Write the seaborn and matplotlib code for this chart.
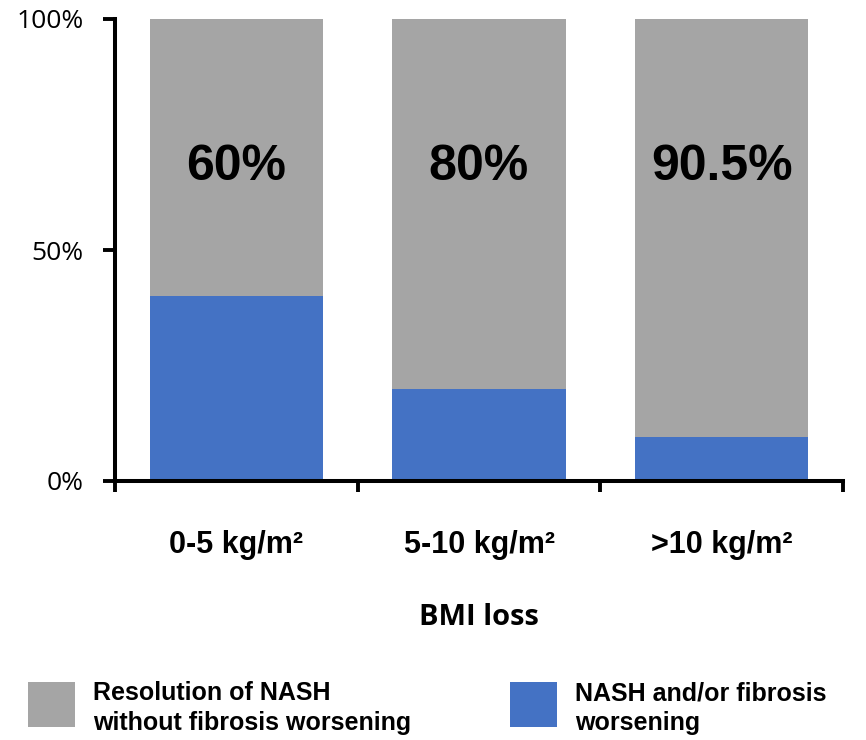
import matplotlib
matplotlib.use("Agg")
import matplotlib.pyplot as plt
import seaborn as sns
import pandas as pd
from matplotlib.patches import Patch
from matplotlib import font_manager as fm

categories = ["0-5 kg/m²", "5-10 kg/m²", ">10 kg/m²"]
worsening = [40, 20, 9.5]
resolution = [60, 80, 90.5]
resolution_labels = ["60%", "80%", "90.5%"]
yticks = [0, 50, 100]
ytick_labels = ["0%", "50%", "100%"]

sns.set_style("white")
names = {f.name for f in fm.fontManager.ttflist}
narrow = "Liberation Sans Narrow" if "Liberation Sans Narrow" in names else "Liberation Sans"
plt.rcParams["font.family"] = ["DejaVu Sans"]
for k in ["text.color", "axes.labelcolor", "xtick.color", "ytick.color"]:
    plt.rcParams[k] = "black"

grey = "#a5a5a5"
blue = "#4472c4"

df = pd.DataFrame({"cat": categories,
                   "total": [w + r for w, r in zip(worsening, resolution)],
                   "worse": worsening})

fig = plt.figure(figsize=(8.66, 7.40), dpi=100)
ax = fig.add_axes([115/866, 1 - 481/740, (843-115)/866, (481-19)/740])

sns.barplot(data=df, x="cat", y="total", color=grey, width=0.715, ax=ax,
            saturation=1, edgecolor="none")
sns.barplot(data=df, x="cat", y="worse", color=blue, width=0.715, ax=ax,
            saturation=1, edgecolor="none")

ax.set_xlim(-0.5, 2.5)
ax.set_ylim(0, 100)
ax.set_yticks(yticks)
ax.set_yticklabels(ytick_labels, fontsize=19, family="Open Sans")
ax.set_xticks(range(len(categories)))
ax.set_xticklabels(categories, fontsize=22, fontweight="bold", family=narrow)
ax.set_xticks([-0.5, 0.5, 1.5, 2.5], minor=True)
ax.tick_params(axis="x", which="major", length=0, pad=35)
ax.tick_params(axis="x", which="minor", length=8, width=2.8, direction="out", bottom=True)
ax.tick_params(axis="y", length=8.5, width=2.8, direction="out", left=True, pad=14)
for s in ["top", "right"]:
    ax.spines[s].set_visible(False)
for s in ["left", "bottom"]:
    ax.spines[s].set_linewidth(2.9)
    ax.spines[s].set_color("black")

for i, lab in enumerate(resolution_labels):
    ax.text(i, 68, lab, ha="center", va="center", fontsize=36,
            fontweight="bold", family="Liberation Sans")

ax.set_xlabel("BMI loss", fontsize=21, fontweight="bold", family="Open Sans", labelpad=31)
ax.set_ylabel("")

labels = ["Resolution of NASH\nwithout fibrosis worsening", "NASH and/or fibrosis\nworsening"]
colors = [grey, blue]
xpos = [28, 510]
fs = 18
px = fs * 100 / 72
for lab, col, x0 in zip(labels, colors, xpos):
    leg = fig.legend([Patch(facecolor=col, edgecolor="none")], [lab], loc="center left",
                     bbox_to_anchor=(x0/866, 1 - 708/740), frameon=False, borderpad=0,
                     borderaxespad=0, handlelength=47/px, handleheight=45/px,
                     handletextpad=18/px, labelspacing=0,
                     prop={"family": narrow, "weight": "bold", "size": fs})
    for t in leg.get_texts():
        t.set_linespacing(1.3)
    for p in leg.get_patches():
        p.set_height(45 / px * fs)
        p.set_y(p.get_y() - (45 / px * fs - p.get_height()) / 2 if False else p.get_y())

fig.savefig("out.png", dpi=100)
